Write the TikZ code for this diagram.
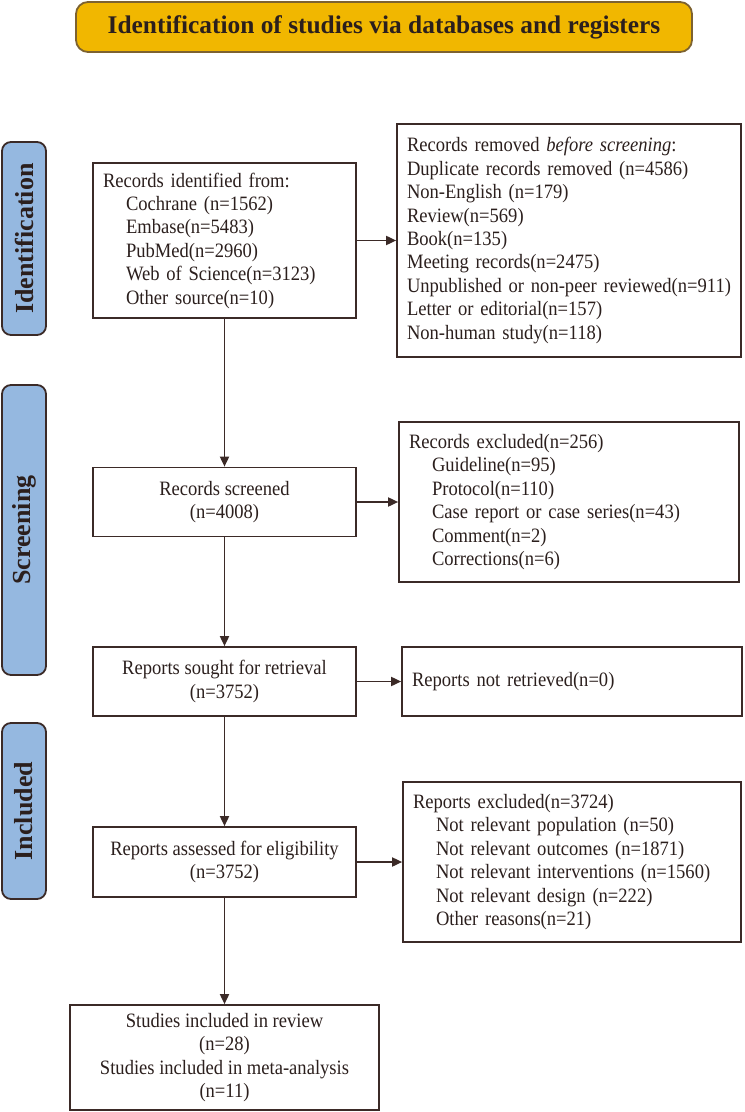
\documentclass[tikz,border=0pt]{standalone}
\usepackage{fontspec}
\setmainfont{Liberation Serif}
\newfontfamily\bodyfont[FakeStretch=0.91]{Liberation Serif}
\usetikzlibrary{arrows.meta,positioning,calc}

\definecolor{linec}{HTML}{3B2A27}
\definecolor{textc}{HTML}{2B1F1D}
\definecolor{headfill}{HTML}{F1B700}
\definecolor{headline}{HTML}{7D6230}
\definecolor{phasefill}{HTML}{95B8E0}

\hyphenpenalty=10000
\exhyphenpenalty=10000
\newcommand{\ind}{\hspace*{11.5pt}}

\begin{document}
\begin{tikzpicture}[
    x=0.5pt, y=-0.5pt,
    every node/.style={text=textc},
    box/.style={rectangle, draw=linec, line width=0.9pt, font=\bodyfont\fontsize{10.2}{11.7}\selectfont, inner xsep=5pt, inner ysep=0pt},
    leftbox/.style={box, align=left, text width=#1},
    midbox/.style={box, align=center, minimum width=131.5pt, minimum height=34.5pt},
    phase/.style={rectangle, rounded corners=4.5pt, draw=linec, fill=phasefill, line width=0.9pt, minimum height=22pt, font=\fontsize{13}{15}\selectfont\bfseries, rotate=90},
    flow/.style={-{Triangle[length=5pt, width=4.6pt]}, draw=linec, line width=0.65pt}
]
    \useasboundingbox (0,0) rectangle (744,1112);

    % Header
    \node[rectangle, rounded corners=6pt, draw=headline, fill=headfill, line width=0.9pt,
          minimum width=308pt, minimum height=25pt, font=\fontsize{12.7}{14}\selectfont\bfseries]
          (head) at (384,27) {Identification of studies via databases and registers};

    % Phase labels
    \node[phase, minimum width=96.5pt] (pident) at (24,238.5) {Identification};
    \node[phase, minimum width=145pt] (pscreen) at (24,530) {Screening};
    \node[phase, minimum width=88pt] (pincl) at (24,811) {Included};

    % Left column
    \node[leftbox=121.5pt, minimum height=77.5pt] (ident) at (224.5,240.5)
        {Records identified from:\\
         \ind Cochrane (n=1562)\\
         \ind Embase(n=5483)\\
         \ind PubMed(n=2960)\\
         \ind Web of Science(n=3123)\\
         \ind Other source(n=10)};
    \node[midbox] (screened) at (224.5,502) {Records screened\\(n=4008)};
    \node[midbox] (sought) at (224.5,681.5) {Reports sought for retrieval\\(n=3752)};
    \node[midbox, minimum height=35pt] (assessed) at (224.5,862) {Reports assessed for eligibility\\(n=3752)};
    \node[midbox, minimum width=154.5pt, minimum height=52.5pt] (final) at (224.5,1057.5)
        {Studies included in review\\(n=28)\\Studies included in meta-analysis\\(n=11)};

    % Right column
    \node[leftbox=162pt, minimum height=116.5pt] (removed) at (569,240.5)
        {Records removed \textit{before screening}:\\
         Duplicate records removed (n=4586)\\
         Non-English (n=179)\\
         Review(n=569)\\
         Book(n=135)\\
         Meeting records(n=2475)\\
         \mbox{Unpublished or non-peer reviewed(n=911)}\\
         Letter or editorial(n=157)\\
         Non-human study(n=118)};
    \node[leftbox=160pt, minimum height=80pt] (recexcl) at (569,502)
        {Records excluded(n=256)\\
         \ind Guideline(n=95)\\
         \ind Protocol(n=110)\\
         \ind Case report or case series(n=43)\\
         \ind Comment(n=2)\\
         \ind Corrections(n=6)};
    \node[leftbox=160pt, minimum height=34.5pt] (notret) at (572,681.5) {Reports not retrieved(n=0)};
    \node[leftbox=159pt, minimum height=80pt] (repexcl) at (572,862)
        {Reports excluded(n=3724)\\
         \ind Not relevant population (n=50)\\
         \ind Not relevant outcomes (n=1871)\\
         \ind Not relevant interventions (n=1560)\\
         \ind Not relevant design (n=222)\\
         \ind Other reasons(n=21)};

    % Flow arrows
    \draw[flow] (ident) -- (removed);
    \draw[flow] (ident) -- (screened);
    \draw[flow] (screened) -- (recexcl);
    \draw[flow] (screened) -- (sought);
    \draw[flow] (sought) -- (notret);
    \draw[flow] (sought) -- (assessed);
    \draw[flow] (assessed) -- (repexcl);
    \draw[flow] (assessed) -- (final);
\end{tikzpicture}
\end{document}
